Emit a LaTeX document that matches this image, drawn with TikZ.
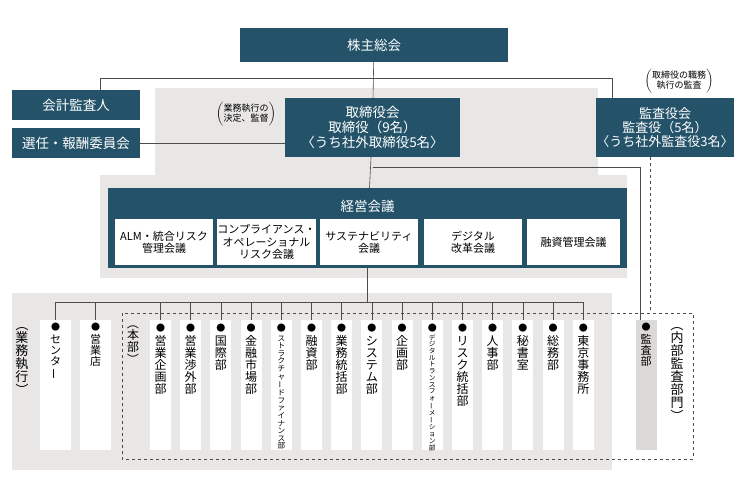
\documentclass[tikz,border=0pt]{standalone}
\usepackage{fontspec}
\setmainfont{Noto Sans CJK JP}
\usepackage{graphicx}
\usetikzlibrary{positioning}
\definecolor{teal}{HTML}{245369}
\definecolor{bggray}{HTML}{E9E7E6}
\definecolor{auditgray}{HTML}{DCDAD9}
\newcommand\vbar{\rotatebox[origin=c]{90}{ー}}
\newcommand\vlp{\rotatebox[origin=c]{-90}{（}}
\newcommand\vrp{\rotatebox[origin=c]{-90}{）}}
\newcommand\fs[1]{\fontsize{#1}{#1}\selectfont}
\begin{document}
\begin{tikzpicture}[x=1pt,y=-1pt,
  dark/.style={fill=teal,text=white,inner sep=0pt,align=center,font=\fs{13.5}},
  inbox/.style={fill=white,inner sep=0pt,align=center,font=\fs{11}\linespread{1.1}\selectfont},
  col/.style={fill=white,minimum width=21pt,minimum height=130pt,inner sep=0pt},
  vtxt/.style={anchor=north,inner sep=0pt,align=center},
  link/.style={draw=black!70,line width=0.6pt},
  note/.style={font=\fs{9},align=center,inner sep=0pt}]
\useasboundingbox (0,0) rectangle (740,480);
% backgrounds
\fill[bggray] (155,88) rectangle (598,175);
\fill[bggray] (100,175) rectangle (627,278);
\fill[bggray] (12,293) rectangle (612,470);
% top level
\node[dark,minimum width=268pt,minimum height=34pt] (agm) at (374,45) {株主総会};
\node[dark,minimum width=128pt,minimum height=30pt] (audit) at (76,105) {会計監査人};
\node[dark,minimum width=128pt,minimum height=30pt] (nomi) at (76,143) {選任・報酬委員会};
\node[dark,minimum width=175pt,minimum height=59pt,font=\fs{13.5}\linespread{1.1}\selectfont] (board) at (372.5,127.5) {取締役会\\取締役（9名）\\〈うち社外取締役5名〉};
\node[dark,minimum width=134pt,minimum height=59pt,font=\fs{13}\linespread{1.1}\selectfont] (kansa) at (665,127.5) {監査役会\\監査役（5名）\\〈うち社外監査役3名〉};
\node[note] (n1) at (246,114) {$\left(\vcenter{\hbox{\begin{tabular}{@{}c@{}}業務執行の\\決定、監督\end{tabular}}}\right)$};
\node[note] (n2) at (679,81) {$\left(\vcenter{\hbox{\begin{tabular}{@{}c@{}}取締役の職務\\執行の監査\end{tabular}}}\right)$};
\coordinate (tl) at (100,78);
\coordinate (tr) at (612,78);
\draw[link] (agm) -- (board);
\draw[link] (tl) -- (tr);
\draw[link] (tl) -- (audit.north -| tl);
\draw[link] (tr) -- (kansa.north -| tr);
\draw[link] (nomi) -- (nomi -| board.west);
% management committee
\node[fill=teal,minimum width=519pt,minimum height=80pt,inner sep=0pt] (keiei) at (367.5,228) {};
\node[text=white,font=\fs{13.5}] at (367.5,206) {経営会議};
\node[inbox,minimum width=98pt,minimum height=46pt] (c1) at (164,242) {ALM・統合リスク\\管理会議};
\node[inbox,minimum width=97pt,minimum height=46pt] (c2) at (266.5,242) {コンプライアンス・\\オペレーショナル\\リスク会議};
\node[inbox,minimum width=98pt,minimum height=46pt] (c3) at (369,242) {サステナビリティ\\会議};
\node[inbox,minimum width=98pt,minimum height=46pt] (c4) at (473,242) {デジタル\\改革会議};
\node[inbox,minimum width=93pt,minimum height=46pt] (c5) at (573.5,242) {融資管理会議};
\draw[link] (board) -- (keiei);
\coordinate (br) at (640,167);
\draw[link] (board.south |- br) -- (br);
% departments
\coordinate (bl) at (56,302);
\coordinate (bend) at (583.5,302);
\draw[link] (keiei) -- (keiei.south |- bl);
\draw[link] (bl) -- (bend);
\node[col,minimum width=31pt] (s1) at (55.5,385) {};
\node[vtxt,font=\fs{11}] at (55.5,323) {\fs{9}●\\[2pt]\fs{11}セ\\ン\\タ\\\vbar};
\node[col,minimum width=31pt] (s2) at (95.5,385) {};
\node[vtxt,font=\fs{11}] at (95.5,323) {\fs{9}●\\[2pt]\fs{11}営\\業\\店};
\draw[link] (s1.north |- bl) -- (s1);
\draw[link] (s2.north |- bl) -- (s2);
\foreach \i/\t/\s in {0/{営\\業\\企\\画\\部}/12,1/{営\\業\\渉\\外\\部}/12,2/{国\\際\\部}/12,
  3/{金\\融\\市\\場\\部}/12,4/{ス\\ト\\ラ\\ク\\チ\\ャ\\\vbar\\ド\\フ\\ァ\\イ\\ナ\\ン\\ス\\部}/7.6,
  5/{融\\資\\部}/12,6/{業\\務\\統\\括\\部}/12,7/{シ\\ス\\テ\\ム\\部}/12,8/{企\\画\\部}/12,
  9/{デ\\ジ\\タ\\ル\\ト\\ラ\\ン\\ス\\フ\\ォ\\\vbar\\メ\\\vbar\\シ\\ョ\\ン\\部}/6.7,
  10/{リ\\ス\\ク\\統\\括\\部}/12,11/{人\\事\\部}/12,12/{秘\\書\\室}/12,13/{総\\務\\部}/12,
  14/{東\\京\\事\\務\\所}/12}{
  \node[col] (d\i) at (160.5+30.2*\i,385) {};
  \node[vtxt,font=\fs{\s}] at (d\i.north) [yshift=-4pt] {\fs{9}●\\[2pt]\fs{\s}\t};
  \draw[link] (d\i.north |- bl) -- (d\i);
}
% internal audit
\node[col,fill=auditgray] (iad) at (646,385) {};
\node[vtxt,font=\fs{11}] at (646,323) {\fs{9}●\\[2pt]\fs{11}監\\査\\部};
\draw[link] (br) -- (br |- iad.north);
\coordinate (dtop) at (650,313);
\draw[dashed,black!70] (kansa.south -| dtop) -- (dtop);
\draw[dashed,black!70] (122,313) rectangle (693,459);
% side labels
\node[vtxt,font=\fs{13}] at (22,318) {\vlp\\業\\務\\執\\行\\\vrp};
\node[vtxt,font=\fs{12}] at (133,317) {\vlp\\本\\部\\\vrp};
\node[vtxt,font=\fs{13}] at (677,318) {\vlp\\内\\部\\監\\査\\部\\門\\\vrp};
\end{tikzpicture}
\end{document}
